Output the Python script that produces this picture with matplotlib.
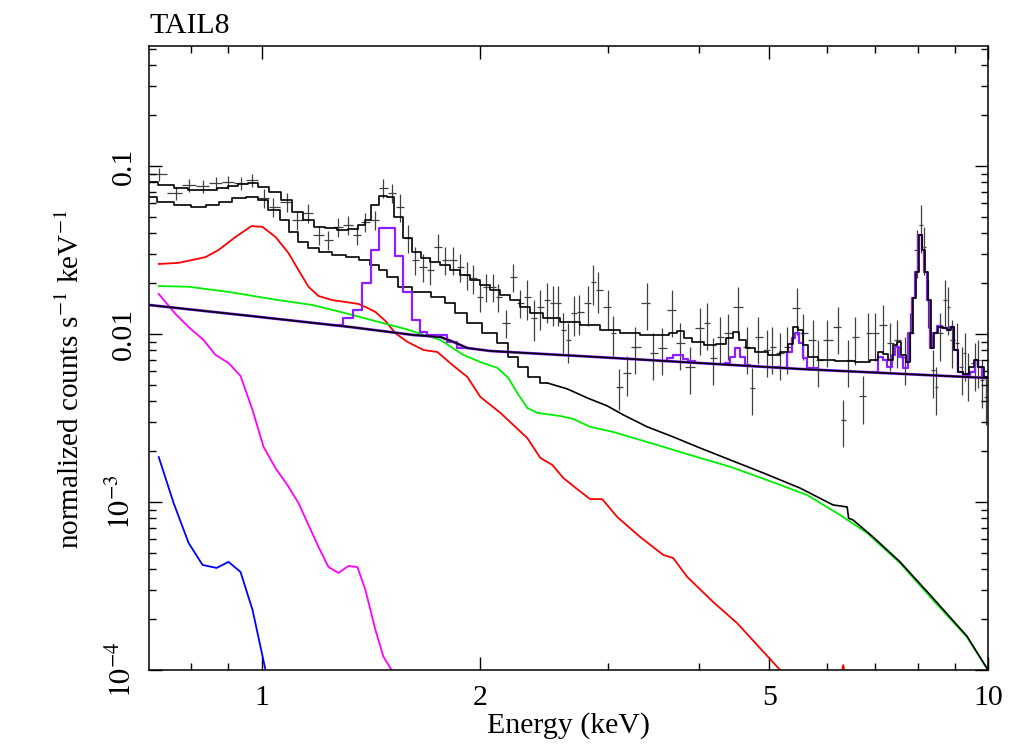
import numpy as np
import matplotlib
matplotlib.use('Agg')
import matplotlib.pyplot as plt
from matplotlib.ticker import FixedLocator, FixedFormatter, NullFormatter, LogLocator

plt.rcParams['font.family'] = ['Liberation Serif', 'DejaVu Serif']
plt.rcParams['mathtext.fontset'] = 'stix'

# ---- data points (keV, normalized counts s^-1 keV^-1)
data_e = [0.722, 0.7615, 0.7937, 0.8295, 0.8644, 0.8980, 0.9357, 0.9688, 1.0064, 1.0387, 1.0858,
          1.1207, 1.1605, 1.1980, 1.2365, 1.2762, 1.3171, 1.3552, 1.3902, 1.4350, 1.4718, 1.5143,
          1.5533, 1.5932, 1.6289, 1.6707, 1.7082, 1.7520, 1.7912, 1.8371, 1.8782, 1.9202, 1.9570,
          2.0010, 2.0395, 2.0850, 2.1184, 2.1727, 2.2215, 2.2712, 2.3222, 2.3743, 2.4200, 2.4742,
          2.5221, 2.5621, 2.6026, 2.6445, 2.6945, 2.7375, 2.8163, 2.8616, 2.9075, 3.0014, 3.0497,
          3.1080, 3.1867,
          3.2683, 3.3963, 3.4609, 3.5609, 3.6752, 3.7693, 3.8912, 4.0169, 4.1069, 4.1854, 4.2799,
          4.3895, 4.5302, 4.6614, 4.7359, 4.8262, 4.9659, 5.0451, 5.1745, 5.2903, 5.4608, 5.5651,
          5.7441, 5.8364, 6.0042, 6.2177, 6.3174, 6.4194,
          6.5637, 6.7290, 6.8400, 6.9929, 7.1722, 7.3328, 7.4960, 7.6890, 7.8120, 7.9878, 8.0900,
          8.1660, 8.2710, 8.4005, 8.4840, 8.5900, 8.7280, 8.8110, 8.9240, 9.0650, 9.2080, 9.2970,
          9.3860, 9.5970, 9.6880, 9.8110, 9.9360]
data_v = [0.0896, 0.0691, 0.0771, 0.0760, 0.0792, 0.0803, 0.0792, 0.0825, 0.0645, 0.0570, 0.0611,
          0.0477, 0.0525, 0.0388, 0.0363, 0.0434, 0.0446, 0.0388, 0.0464, 0.0477, 0.0740, 0.0691,
          0.0570, 0.0373, 0.0276, 0.0251, 0.0240, 0.0330, 0.0276, 0.0276, 0.0251, 0.0225, 0.0215,
          0.0166, 0.0191, 0.0191, 0.0166, 0.01163, 0.0218, 0.0153, 0.0166, 0.0125, 0.01448, 0.0159,
          0.0153, 0.0153, 0.01056, 0.00921, 0.0133, 0.01352, 0.0153, 0.0204, 0.0183, 0.01448, 0.0101,
          0.00484, 0.00586,
          0.00837, 0.0153, 0.0077, 0.00825, 0.0139, 0.00884, 0.00636, 0.01085, 0.01163, 0.0072, 0.0096,
          0.0101, 0.01448, 0.00837, 0.00477, 0.0096, 0.00803, 0.00837, 0.0077, 0.00837, 0.01428, 0.0101,
          0.00921, 0.0070, 0.00921, 0.0110, 0.00308, 0.0070,
          0.0096, 0.00428, 0.0101, 0.0101, 0.0113, 0.00884, 0.00921, 0.0073, 0.0101, 0.0316, 0.0446,
          0.0330, 0.0159, 0.0061, 0.00484, 0.0101, 0.0159, 0.01448, 0.00921, 0.00884, 0.00636, 0.0077,
          0.00586, 0.00672, 0.0070, 0.00532, 0.00422]
# relative 1-sigma errors
data_rel = [0.09] * 8 + [0.13] * 14 + [0.19] * 18 + [0.27] * 17 + [0.31] * 28 + [0.32] * 27

# ---- total model, first spectrum (step)
tot1_e = [0.70, 0.7401, 0.7738, 0.8113, 0.8509, 0.8839, 0.9123, 0.9416, 0.9719, 1.0064, 1.0420,
          1.0824, 1.1207, 1.1605, 1.2016, 1.2444, 1.2923, 1.3424, 1.3768, 1.3989, 1.4350, 1.4718,
          1.5048, 1.5434, 1.5932, 1.6341, 1.6815, 1.7354, 1.7912, 1.8490, 1.9084, 1.9699, 2.0332,
          2.0987, 2.1662, 2.2360, 2.3079, 2.3823, 2.4978, 2.6607, 2.8340, 3.0206, 3.2179, 3.4280,
          3.5950, 3.6873, 3.7697, 3.8547, 3.9783, 4.1455, 4.3062, 4.4168, 4.5017, 4.5876, 4.7053,
          4.8572, 5.0933, 5.2574, 5.3412, 5.4264, 5.5128, 5.6008, 5.6905, 5.9679, 6.3593, 6.7767,
          6.9950, 7.1063, 7.2200, 7.3356, 7.4530, 7.5208, 7.6413, 7.7634, 7.8380, 7.9127, 7.9878,
          8.0640, 8.1406, 8.2180, 8.2960, 8.3750, 8.4550, 8.5900, 8.7280, 8.8390, 8.9240, 9.0360,
          9.1510, 9.3260, 9.5060, 9.6260, 9.7500, 10.0]
tot1_v = [0.0803, 0.0771, 0.0740, 0.0720, 0.0720, 0.0740, 0.0760, 0.0781, 0.0792, 0.0750, 0.0700,
          0.0628, 0.0532, 0.0477, 0.0434, 0.0428, 0.0416, 0.0422, 0.0446, 0.0477, 0.0586, 0.0663,
          0.0654, 0.0497, 0.0373, 0.0308, 0.0283, 0.0268, 0.0257, 0.0240, 0.0225, 0.0210, 0.0196,
          0.0183, 0.0171, 0.0159, 0.0145, 0.0133, 0.0125, 0.0118, 0.0113, 0.0106, 0.0101, 0.00986,
          0.00986, 0.0101, 0.0104, 0.00947, 0.00897, 0.00860, 0.00872, 0.00947, 0.0103, 0.00921, 0.00825,
          0.00781, 0.00750, 0.00781, 0.00872, 0.0110, 0.0106, 0.00860, 0.00730, 0.00700, 0.00691, 0.00681,
          0.00700, 0.00781, 0.00760, 0.00700, 0.00860, 0.00897, 0.00750, 0.00681, 0.0101, 0.0164, 0.0234,
          0.0388, 0.0316, 0.0234, 0.0159, 0.00825, 0.0101, 0.0110, 0.0109, 0.0106, 0.0110, 0.00803,
          0.00594, 0.00578, 0.00636, 0.00700, 0.00636, 0.00555]

# ---- total model, second spectrum: coarse bins (step) below 2.5 keV, fine bins above
tot2_e = [0.70, 0.7378, 0.7788, 0.8190, 0.8564, 0.8923, 0.9297, 0.9719, 1.0032, 1.0387, 1.0790,
          1.1032, 1.1387, 1.1752, 1.2248, 1.2762, 1.3340, 1.3902, 1.4350, 1.4672, 1.5143, 1.5680,
          1.6549, 1.7630, 1.8197, 1.8782, 1.9570, 2.065, 2.1526, 2.2215, 2.2932, 2.3673, 2.4742]
tot2_v = [0.0654, 0.0611, 0.0586, 0.0570, 0.0586, 0.0611, 0.0645, 0.0654, 0.0628, 0.0547, 0.0477,
          0.0405, 0.0353, 0.0325, 0.0308, 0.0295, 0.0287, 0.0276, 0.0257, 0.0240, 0.0218, 0.0191,
          0.0178, 0.0166, 0.0153, 0.0133, 0.01163, 0.0101, 0.00884, 0.00730, 0.00636, 0.00555, 0.00511]
tot2_hi_e = [2.4742, 2.6357, 2.8091, 2.9923, 3.1477, 3.3963, 3.6873, 3.9783, 4.4168, 4.9030, 5.5128,
             6.1210, 6.3997, 6.4300, 6.5218, 6.9475, 7.5683, 8.4005, 9.3555, 10.0]
tot2_hi_v = [0.00511, 0.00471, 0.00416, 0.00373, 0.00330, 0.00280, 0.00244, 0.00213, 0.00178, 0.00149,
             0.00121, 0.00096, 0.000934, 0.000800, 0.000781, 0.000619, 0.000440, 0.000268, 0.000159, 0.000100]

# ---- continuum (black line)
cont_e = [0.70, 0.9658, 1.3255, 1.6184, 1.7630, 1.837, 1.920, 2.065, 3.050, 5.512, 10.0]
cont_v = [0.01488, 0.0128, 0.0110, 0.00986, 0.0096, 0.00897, 0.00825, 0.00792, 0.0072, 0.00619, 0.00547]

# ---- continuum + lines (purple), step segments
line_a_e = [1.2444, 1.2965, 1.3382, 1.3768, 1.4169, 1.4534, 1.5291, 1.5680, 1.6132, 1.6549, 1.6920, 1.8025, 1.8604, 1.9202]
line_a_v = [0.0113, 0.0125, 0.0139, 0.0201, 0.0316, 0.0428, 0.0291, 0.0178, 0.0121, 0.0103, 0.00986, 0.00897, 0.00825]
line_b_e = [3.5390, 3.6188, 3.6873, 3.8058, 3.8665, 3.9537]
line_b_v = [0.00691, 0.0072, 0.0075, 0.0071, 0.00691]
line_c_e = [4.2799, 4.3474, 4.4168, 4.4875, 4.5593, 4.6323, 4.7053, 4.7962]
line_c_v = [0.00663, 0.00672, 0.0073, 0.00825, 0.0073, 0.00654, 0.00645]
line_d_e = [5.0933, 5.1745, 5.2903, 5.3756, 5.4264, 5.4954, 5.5651, 5.6364, 5.7280, 5.8364]
line_d_v = [0.00636, 0.00627, 0.00781, 0.00947, 0.0101, 0.00884, 0.0072, 0.00627, 0.00627]
line_e_e = [6.8826, 6.9475, 7.0620, 7.1722, 7.2638, 7.3790, 7.4530, 7.5448, 7.6413, 7.7634, 7.8628,
            7.9378, 8.0136, 8.1160, 8.1660, 8.2440, 8.3230, 8.4005, 8.5090, 8.6460, 8.7830, 8.8660,
            8.9800, 9.0940, 9.2380, 9.4460, 9.5970, 9.6880, 9.8110, 10.0]
line_e_v = [0.00594, 0.00594, 0.0073, 0.0070, 0.00636, 0.0075, 0.00837, 0.0073, 0.00627, 0.0101, 0.0164,
            0.0234, 0.0388, 0.0316, 0.0234, 0.0159, 0.00825, 0.0101, 0.0112, 0.0109, 0.0106, 0.0110,
            0.00803, 0.00594, 0.0057, 0.00594, 0.0070, 0.00636, 0.00555]

# ---- model components
red_e = [0.722, 0.7687, 0.8036, 0.8377, 0.8726, 0.9209, 0.9688, 1.0032, 1.0454, 1.0893, 1.1243, 1.1605,
         1.198, 1.2520, 1.3048, 1.3595, 1.3902, 1.4350, 1.4810, 1.5291, 1.5882, 1.6707, 1.7463, 1.8313,
         1.9202, 2.0010, 2.1326, 2.3222, 2.4200, 2.5140, 2.6026, 2.7217, 2.8340, 2.9444, 3.0880, 3.3210,
         3.5727, 3.6873, 3.8547, 4.1854, 4.5155, 5.1745, 5.3412]
red_v = [0.0261, 0.0265, 0.0276, 0.0287, 0.0316, 0.0378, 0.0439, 0.0434, 0.0378, 0.0303, 0.0240, 0.0191,
         0.01683, 0.0159, 0.0155, 0.0151, 0.01448, 0.01352, 0.01195, 0.0101, 0.00897, 0.00803, 0.00781, 0.00654,
         0.00555, 0.00422, 0.00339, 0.0024, 0.00183, 0.00166, 0.00139, 0.00119, 0.00104, 0.00104, 0.000814, 0.000619,
         0.000484, 0.000464, 0.000358, 0.000254, 0.000190, 0.000100, 0.0000872]
red_fe_e = [6.27, 6.32, 6.37]
red_fe_v = [0.00009, 0.000107, 0.00009]

green_e = [0.722, 0.7937, 0.9008, 1.0553, 1.1752, 1.3048, 1.4487, 1.5779, 1.7630, 1.8964, 2.0010, 2.1126,
           2.1870, 2.2497, 2.3222, 2.3975, 2.5778, 2.6864, 2.8340, 3.0497, 3.3210, 3.5727, 3.9783, 4.4168,
           4.9659, 5.6364, 6.2566, 6.8175, 7.5683, 8.4005, 9.3555, 10.0]
green_v = [0.0193, 0.0191, 0.0178, 0.0159, 0.01488, 0.0133, 0.0118, 0.01071, 0.00921, 0.0075, 0.00681, 0.00627,
           0.00547, 0.00445, 0.00363, 0.00339, 0.00325, 0.00312, 0.0028, 0.00261, 0.00234, 0.00213, 0.00185, 0.00162,
           0.00135, 0.0011, 0.000837, 0.000654, 0.000433, 0.000261, 0.000157, 0.0001]

magenta_e = [0.722, 0.7615, 0.7937, 0.8321, 0.8644, 0.9008, 0.9357, 0.9719, 1.0064, 1.0454, 1.0858, 1.1243,
             1.1605, 1.198, 1.2365, 1.2762, 1.3171, 1.3552, 1.3902, 1.4350, 1.4718, 1.5097, 1.5240]
magenta_v = [0.0173, 0.01315, 0.0110, 0.00921, 0.0075, 0.00672, 0.00562, 0.00353, 0.00213, 0.00159, 0.00126, 0.000986,
             0.00073, 0.00054, 0.00041, 0.000378, 0.000416, 0.00041, 0.000299, 0.000173, 0.000120, 0.0001, 0.0000897]

blue_e = [0.722, 0.7568, 0.7937, 0.8295, 0.8672, 0.9008, 0.9357, 0.9719, 1.0127, 1.019]
blue_v = [0.00185, 0.000986, 0.00057, 0.000422, 0.000405, 0.00044, 0.000383, 0.000228, 0.0001, 0.0000872]

# ---------------------------------------------------------------
fig = plt.figure(figsize=(10.24, 7.45), dpi=100)
ax = fig.add_axes([0.1455, 0.1007, 0.8193, 0.8376])
ax.set_xscale('log')
ax.set_yscale('log')

# data crosses, x-error = half bin (geometric mid between neighbours)
e = np.array(data_e)
v = np.array(data_v)
le = np.log10(e)
mids = (le[1:] + le[:-1]) / 2
lo = np.r_[2 * le[0] - mids[0], mids]
hi = np.r_[mids, 2 * le[-1] - mids[-1]]
xerr = [e - 10 ** lo, 10 ** hi - e]
yerr = v * np.array(data_rel)
ax.errorbar(e, v, xerr=xerr, yerr=yerr, fmt='none', ecolor='0.25', elinewidth=0.9, zorder=1)

ax.plot(red_e, red_v, color='#ff0000', lw=1.3, zorder=2)
ax.plot(red_fe_e, red_fe_v, color='#ff0000', lw=1.3, zorder=2)
ax.plot(green_e, green_v, color='#00ee00', lw=1.3, zorder=2)
ax.plot(magenta_e, magenta_v, color='#ff00ff', lw=1.3, zorder=2)
ax.plot(blue_e, blue_v, color='#0000ff', lw=1.3, zorder=2)

ax.plot(tot2_e, tot2_v, color='black', lw=1.2, drawstyle='steps-mid', zorder=3)
ax.plot(tot2_hi_e, tot2_hi_v, color='black', lw=1.2, zorder=3)

purple = '#8c1eff'
ax.plot(cont_e, cont_v, color=purple, lw=2.0, zorder=3)
for le_, lv_ in [(line_a_e, line_a_v), (line_b_e, line_b_v), (line_c_e, line_c_v),
                 (line_d_e, line_d_v), (line_e_e, line_e_v)]:
    ax.plot(le_, list(lv_) + [lv_[-1]], color=purple, lw=1.6, drawstyle='steps-post', zorder=4)

ax.plot(cont_e, cont_v, color='black', lw=1.2, zorder=5)
ax.plot(tot1_e, tot1_v, color='black', lw=1.2, drawstyle='steps-mid', zorder=5)

ax.set_xlim(0.7, 10)
ax.set_ylim(1e-4, 0.518)

ax.xaxis.set_major_locator(FixedLocator([1, 2, 5, 10]))
ax.xaxis.set_major_formatter(FixedFormatter(['1', '2', '5', '10']))
ax.xaxis.set_minor_locator(FixedLocator([0.8, 0.9, 3, 4, 6, 7, 8, 9]))
ax.xaxis.set_minor_formatter(NullFormatter())
ax.yaxis.set_major_locator(FixedLocator([1e-4, 1e-3, 1e-2, 1e-1]))
ax.yaxis.set_major_formatter(FixedFormatter(['$10^{-4}$', '$10^{-3}$', '0.01', '0.1']))
ax.yaxis.set_minor_locator(LogLocator(base=10, subs=np.arange(2, 10)))
ax.yaxis.set_minor_formatter(NullFormatter())

ax.tick_params(which='both', direction='in', top=True, right=True, width=1.0, labelsize=21.5)
ax.tick_params(which='major', length=9.5)
ax.tick_params(which='minor', length=4.8)
ax.tick_params(axis='x', pad=11)
ax.tick_params(axis='y', pad=9)
for lab in ax.get_yticklabels():
    lab.set_rotation(90)
    lab.set_va('center')
for sp in ax.spines.values():
    sp.set_linewidth(1.1)

ax.set_xlabel('Energy (keV)', fontsize=21.5)
ax.xaxis.set_label_coords(0.5, -0.068)
ax.set_ylabel('normalized counts s$^{-1}$ keV$^{-1}$', fontsize=21)
ax.yaxis.set_label_coords(-0.076, 0.465)
ax.set_title('TAIL8', loc='left', fontsize=21.5, pad=9)

fig.savefig('out.png', dpi=100)
